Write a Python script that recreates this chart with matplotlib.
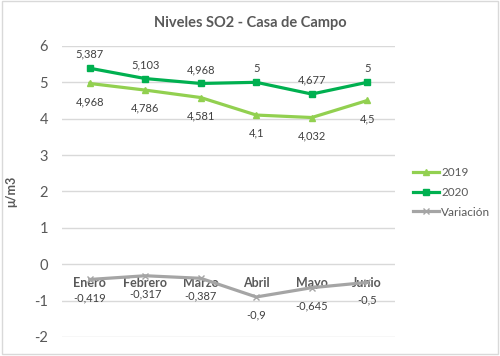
import matplotlib
matplotlib.use("Agg")
import matplotlib.pyplot as plt
from matplotlib.patches import Rectangle

plt.rcParams['font.family'] = ['Lato', 'DejaVu Sans']

months = ["Enero", "Febrero", "Marzo", "Abril", "Mayo", "Junio"]
v2019 = [4.968, 4.786, 4.581, 4.1, 4.032, 4.5]
v2020 = [5.387, 5.103, 4.968, 5, 4.677, 5]
variacion = [-0.419, -0.317, -0.387, -0.9, -0.645, -0.5]
yticks = [-2, -1, 0, 1, 2, 3, 4, 5, 6]

def fmt(v):
    s = ("%.3f" % v).rstrip("0").rstrip(".")
    return s.replace(".", ",")

PX = 72 / 100.0  # points per pixel

fig = plt.figure(figsize=(5.0, 3.56), dpi=100)
fig.patches.append(Rectangle((0.004, 0.006), 0.992, 0.99, transform=fig.transFigure,
                             fill=False, edgecolor="#D9D9D9", linewidth=1))
ax = fig.add_axes([0.124, 0.0534, 0.666, 0.8176])
x = list(range(len(months)))

c19, c20, cv = "#92D050", "#00B050", "#A5A5A5"
ax.plot(x, v2019, color=c19, lw=2.3, marker="^", ms=5, label="2019", zorder=3)
ax.plot(x, v2020, color=c20, lw=2.3, marker="s", ms=5, label="2020", zorder=3)
ax.plot(x, variacion, color=cv, lw=2.3, marker="x", ms=5, mew=1, label="Variación", zorder=3)

lab_c = "#404040"
for i in x:
    ax.annotate(fmt(v2020[i]), (i, v2020[i]), xytext=(0, 14 * PX), textcoords="offset points",
                ha="center", va="center", fontsize=8, color=lab_c)
    ax.annotate(fmt(v2019[i]), (i, v2019[i]), xytext=(0, -18 * PX), textcoords="offset points",
                ha="center", va="center", fontsize=8, color=lab_c)
    ax.annotate(fmt(variacion[i]), (i, variacion[i]), xytext=(0, -18 * PX), textcoords="offset points",
                ha="center", va="center", fontsize=8, color=lab_c)
    ax.annotate(months[i], (i, 0), xytext=(0, -19 * PX), textcoords="offset points",
                ha="center", va="center", fontsize=9, fontweight="bold", color="#595959", zorder=2)

ax.set_xlim(-0.5, len(months) - 0.5)
ax.set_ylim(-2, 6)
ax.set_yticks(yticks)
ax.set_yticklabels([str(t) for t in yticks], fontsize=10.5, color="#595959")
ax.set_xticks([])
ax.grid(axis="y", color="#D9D9D9", lw=1)
ax.set_axisbelow(True)
for s in ax.spines.values():
    s.set_visible(False)
ax.tick_params(axis="y", length=0, pad=10)
ax.set_ylabel("μ/m3", fontsize=9, fontweight="bold", color="#595959", labelpad=12)

fig.text(0.5, 0.935, "Niveles SO2 - Casa de Campo", ha="center", va="center",
         fontsize=10.5, fontweight="bold", color="#595959")
leg = fig.legend(loc="center left", bbox_to_anchor=(0.805, 0.46), frameon=False,
                 fontsize=8.5, labelcolor="#595959", handlelength=2.2, handletextpad=0.2,
                 markerscale=0.8, labelspacing=0.75)
fig.savefig("out.png", dpi=100)
